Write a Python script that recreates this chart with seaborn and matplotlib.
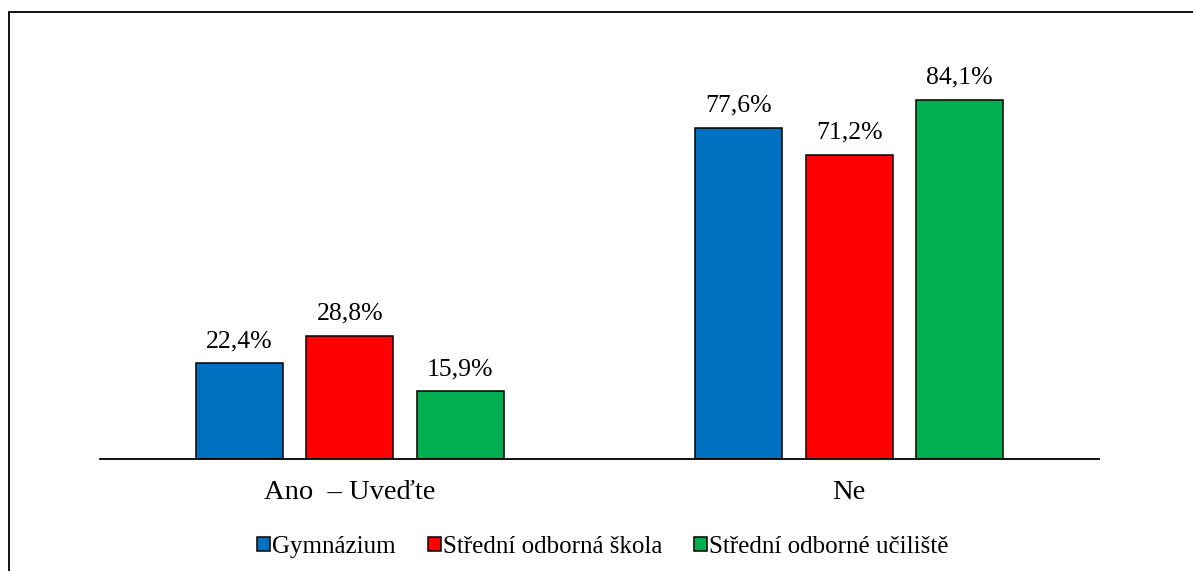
import numpy as np
import pandas as pd
import seaborn as sns
import matplotlib.pyplot as plt
from matplotlib.patches import Rectangle

# data
answers = ["Ano  – Uveďte", "Ne"]
schools = ["Gymnázium", "Střední odborná škola", "Střední odborné učiliště"]
gymnazium = [22.4, 77.6]
sos = [28.8, 71.2]
sou = [15.9, 84.1]
colors = ["#0070C0", "#FF0000", "#00B050"]

df = pd.DataFrame({
    "answer": answers * 3,
    "school": np.repeat(schools, 2),
    "value": gymnazium + sos + sou,
})

sns.set_theme(style="white")
plt.rcParams['font.family'] = ['Liberation Serif', 'DejaVu Serif']
plt.rcParams['text.color'] = 'black'
plt.rcParams['xtick.color'] = 'black'

W, H = 1193, 571
fig = plt.figure(figsize=(W / 100, H / 100), dpi=100)
ax = fig.add_axes([100 / W, 1 - 459 / H, 999 / W, 427 / H])

sns.barplot(data=df, x="answer", y="value", hue="school", order=answers,
            hue_order=schools, palette=colors, width=0.663, gap=0.21,
            edgecolor="black", linewidth=1.1, saturation=1, ax=ax, legend=False)

for cont in ax.containers:
    ax.bar_label(cont, labels=[f"{b.get_height():.1f}".replace(".", ",") + "%" for b in cont],
                 padding=8, fontsize=18.5, color="black")

ax.set_xlim(-0.5, 1.5)
ax.set_ylim(0, 100)
ax.set_xlabel("")
ax.set_ylabel("")
ax.set_yticks([])
ax.tick_params(axis="x", length=0, pad=15, labelsize=20.5, labelcolor="black")
for s in ["top", "left", "right"]:
    ax.spines[s].set_visible(False)
ax.spines["bottom"].set_color("black")
ax.spines["bottom"].set_linewidth(1.3)

# legend with small square markers
handles = [Rectangle((0, 0), 1, 1, facecolor=c, edgecolor="black", linewidth=1.1) for c in colors]
fig.legend(handles, schools, loc="center", bbox_to_anchor=(603 / W, 1 - 547 / H), ncol=3,
           frameon=False, fontsize=18, handlelength=0.5, handleheight=0.5,
           handletextpad=0.08, columnspacing=1.3, borderpad=0, labelcolor="black")

# chart border (cropped at right and bottom)
fig.patches.append(Rectangle((9 / W, -0.1), 1.2, 1.1 - 12 / H, transform=fig.transFigure,
                             fill=False, edgecolor="black", linewidth=1.3))

fig.savefig("out.png", dpi=100)
